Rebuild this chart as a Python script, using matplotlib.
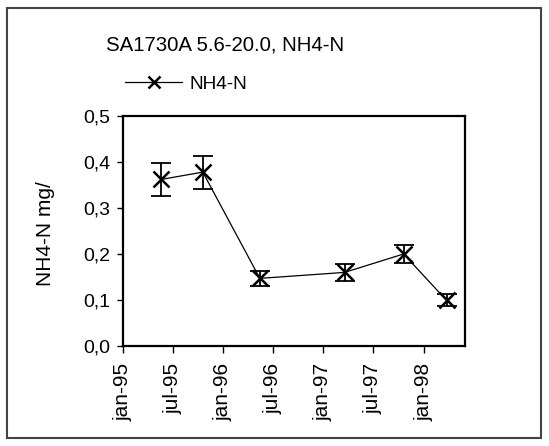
import numpy as np
import matplotlib
matplotlib.use("Agg")
import matplotlib.pyplot as plt
import matplotlib.dates as mdates
from matplotlib.patches import Rectangle

plt.rcParams['font.family'] = ['Liberation Sans', 'DejaVu Sans']

# sampling dates and NH4-N values
dates = ["1995-05-19", "1995-10-19", "1996-05-14", "1997-03-19", "1997-10-20", "1998-03-26"]
nh4 = [0.362, 0.378, 0.147, 0.160, 0.200, 0.099]
err = [0.035, 0.036, 0.016, 0.018, 0.020, 0.013]

tick_dates = ["1995-01-01", "1995-07-01", "1996-01-01", "1996-07-01",
              "1997-01-01", "1997-07-01", "1998-01-01"]
tick_labels = ["jan-95", "jul-95", "jan-96", "jul-96", "jan-97", "jul-97", "jan-98"]
y_ticks = [0.0, 0.1, 0.2, 0.3, 0.4, 0.5]
y_labels = ["0,0", "0,1", "0,2", "0,3", "0,4", "0,5"]

x = mdates.datestr2num(dates)
xt = mdates.datestr2num(tick_dates)

fig = plt.figure(figsize=(5.49, 4.46), dpi=100)
ax = fig.add_axes([123/549, 1-346/446, (465-123)/549, (346-116)/446])

# outer chart frame
fig.patches.append(Rectangle((7/549, 8/446), 534/549, 430/446, transform=fig.transFigure,
                             fill=False, edgecolor='#444444', linewidth=1.5))

ax.errorbar(x, nh4, yerr=err, fmt='none', ecolor='black', elinewidth=1.3,
            capsize=7, capthick=1.3)
ax.plot(x, nh4, color='black', linewidth=0.9, marker='x', markersize=11,
        markeredgewidth=1.8, label='NH4-N')

ax.set_xlim(mdates.datestr2num("1995-01-01"), mdates.datestr2num("1998-06-01"))
ax.set_ylim(0, 0.5)
ax.set_xticks(xt)
ax.set_xticklabels(tick_labels, rotation=90, fontsize=15)
ax.set_yticks(y_ticks)
ax.set_yticklabels(y_labels, fontsize=14)
ax.tick_params(axis='x', direction='out', length=5, width=1, pad=7)
ax.tick_params(axis='y', direction='out', length=4, width=1, pad=5)
for s in ax.spines.values():
    s.set_linewidth(1.6)
    s.set_color('black')

ax.set_ylabel("NH4-N mg/", fontsize=15)
ax.yaxis.set_label_coords(-0.2, 0.49)

fig.text(106/549, 1-45/446, "SA1730A 5.6-20.0, NH4-N", fontsize=14.7,
         ha='left', va='center')

fig.legend(loc='center left', bbox_to_anchor=(125/549, 1-84/446), frameon=False,
           fontsize=13.7, handlelength=3.0, handletextpad=0.4, borderpad=0,
           borderaxespad=0, markerscale=0.85)

fig.savefig("out.png", dpi=100)
